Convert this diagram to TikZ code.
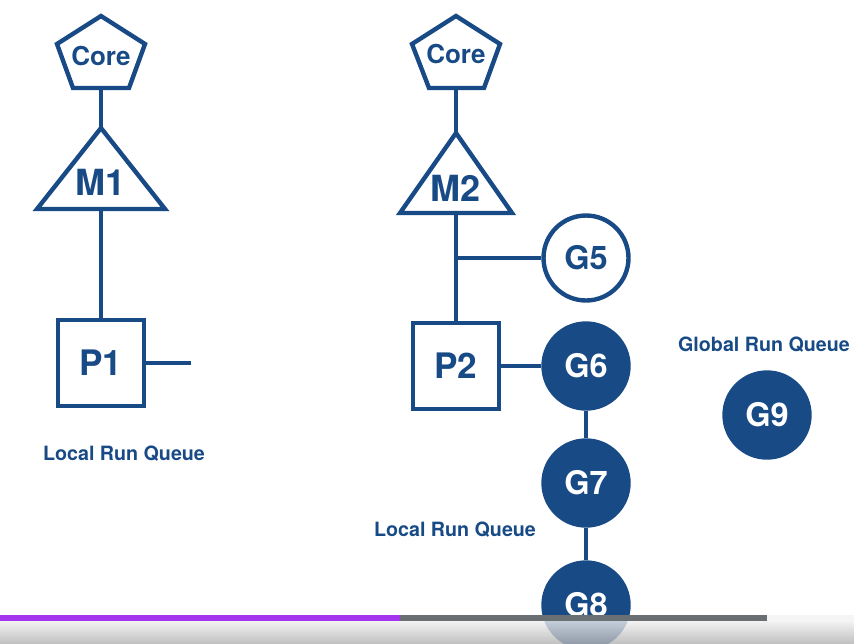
\documentclass[tikz,border=0pt]{standalone}
\usepackage{fontspec}
\setmainfont{TeX Gyre Heros}
\usetikzlibrary{positioning,calc}

\definecolor{goblue}{RGB}{24,74,134}
\definecolor{barpurple}{RGB}{163,53,238}
\definecolor{bargray}{RGB}{106,111,115}

\begin{document}
\begin{tikzpicture}[
    x=0.02cm, y=-0.02cm,
    hull/.style={draw=goblue, line width=2.5pt, line join=miter},
    wire/.style={draw=goblue, line width=2.3pt},
    coretext/.style={text=goblue, font=\fontsize{14.8}{16}\selectfont\bfseries, inner sep=0pt},
    mtext/.style={text=goblue, font=\fontsize{20.5}{22}\selectfont\bfseries, inner sep=0pt},
    pbox/.style={draw=goblue, fill=white, line width=2.5pt, minimum size=1.72cm, inner sep=0pt, text=goblue, font=\fontsize{20}{22}\selectfont\bfseries},
    gidle/.style={circle, draw=goblue, fill=white, line width=2.5pt, minimum size=1.7cm, inner sep=0pt, text=goblue, font=\fontsize{18.5}{20}\selectfont\bfseries},
    grun/.style={gidle, fill=goblue, text=white},
    qlabel/.style={text=goblue, font=\fontsize{11.2}{13}\selectfont\bfseries, inner sep=0pt}
]
    \useasboundingbox (0,0) rectangle (854,643);

    % Left side: Core, M1, P1
    \draw[hull] (101,16) -- (145,44) -- (129,88) -- (73,88) -- (57,44) -- cycle;
    \node[coretext] (core1) at (101,56) {Core};
    \coordinate (core1s) at (101,88);

    \draw[hull] (101,128) coordinate (m1top) -- (165,209) -- (37,209) -- cycle;
    \coordinate (m1base) at (101,209);
    \node[mtext] (m1) at (101,182) {M1};

    \node[pbox] (p1) at (101,363) {P1};
    \coordinate (p1end) at (191,363);
    \node[qlabel] (lrq1) at (124,454) {Local Run Queue};

    \draw[wire] (core1s) -- (m1top);
    \draw[wire] (m1base) -- (p1.north);
    \draw[wire] (p1.east) -- (p1end);

    % Right side: Core, M2, P2 and the goroutines
    \draw[hull] (456,16) -- (500,44) -- (484,88) -- (429,88) -- (412,44) -- cycle;
    \node[coretext] (core2) at (456,54) {Core};
    \coordinate (core2s) at (456,88);

    \draw[hull] (456,133) coordinate (m2top) -- (512,213) -- (400,213) -- cycle;
    \coordinate (m2base) at (456,213);
    \node[mtext] (m2) at (456,188) {M2};

    \node[pbox] (p2) at (456,366) {P2};
    \node[gidle] (g5) at (586,258) {G5};
    \node[grun] (g6) at (586,366) {G6};
    \node[grun] (g7) at (586,483) {G7};
    \node[grun] (g8) at (586,605) {G8};

    \node[qlabel] (lrq2) at (455,530) {Local Run Queue};

    \draw[wire] (core2s) -- (m2top);
    \draw[wire] (m2base) -- (p2.north);
    \draw[wire] (m2base |- g5.west) -- (g5.west);
    \draw[wire] (p2.east) -- (g6.west);
    \draw[wire] (g6.south) -- (g7.north);
    \draw[wire] (g7.south) -- (g8.north);

    % Global queue
    \node[qlabel] (grq) at (764,345) {Global Run Queue};
    \node[grun] (g9) at (767,415) {G9};

    % Player bar at the bottom
    \fill[barpurple] (0,615) rectangle (400,621);
    \fill[bargray] (400,615) rectangle (767,621);
    \fill[gray!8] (767,615) rectangle (854,621);
    \shade[top color=gray!12, bottom color=gray!60, opacity=0.8] (0,621) rectangle (854,643);

\end{tikzpicture}
\end{document}
